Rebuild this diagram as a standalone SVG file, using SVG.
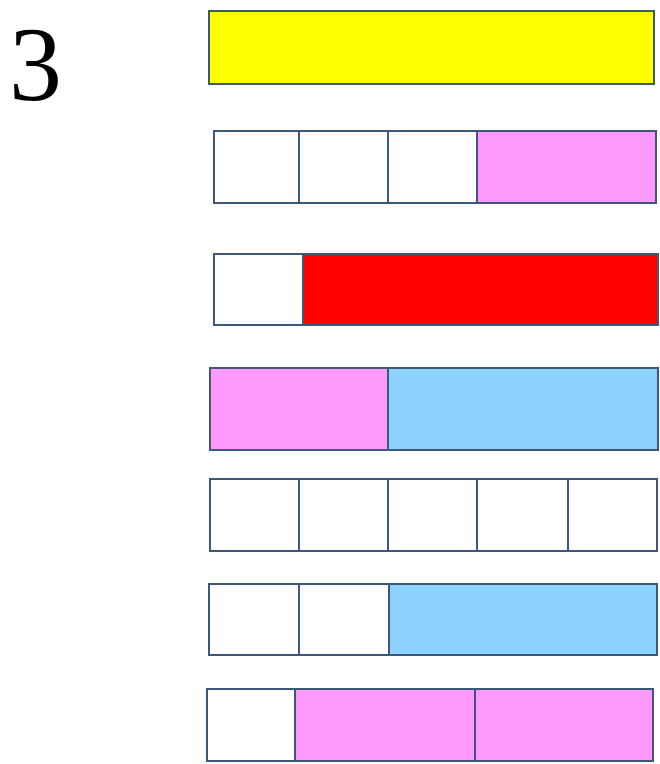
<svg xmlns="http://www.w3.org/2000/svg" width="660" height="764" viewBox="0 0 660 764">
<style>
.c{stroke:#3d5878;stroke-width:2}
.w{fill:#ffffff}
.y{fill:#ffff00}
.p{fill:#ff99fc}
.r{fill:#ff0000}
.b{fill:#8bd2ff}
.t{font-family:"Liberation Serif","Times New Roman",serif;font-size:106px;fill:#000}
</style>
<rect width="660" height="764" fill="#ffffff"/>
<text class="t" x="9" y="100">3</text>
<g id="row1">
<rect class="c y" x="209" y="11" width="445" height="73"/>
</g>
<g id="row2">
<rect class="c w" x="214" y="131" width="85" height="72"/>
<rect class="c w" x="299" y="131" width="89" height="72"/>
<rect class="c w" x="388" y="131" width="89" height="72"/>
<rect class="c p" x="477" y="131" width="179" height="72"/>
</g>
<g id="row3">
<rect class="c w" x="214" y="254" width="89" height="71"/>
<rect class="c r" x="303" y="254" width="355" height="71"/>
</g>
<g id="row4">
<rect class="c p" x="210" y="368" width="178" height="82"/>
<rect class="c b" x="388" y="368" width="270" height="82"/>
</g>
<g id="row5">
<rect class="c w" x="210" y="479" width="89" height="72"/>
<rect class="c w" x="299" y="479" width="89" height="72"/>
<rect class="c w" x="388" y="479" width="89" height="72"/>
<rect class="c w" x="477" y="479" width="91" height="72"/>
<rect class="c w" x="568" y="479" width="89" height="72"/>
</g>
<g id="row6">
<rect class="c w" x="209" y="584" width="90" height="71"/>
<rect class="c w" x="299" y="584" width="90" height="71"/>
<rect class="c b" x="389" y="584" width="268" height="71"/>
</g>
<g id="row7">
<rect class="c w" x="207" y="689" width="88" height="72"/>
<rect class="c p" x="295" y="689" width="180" height="72"/>
<rect class="c p" x="475" y="689" width="178" height="72"/>
</g>
<g id="connectors"/>
</svg>
